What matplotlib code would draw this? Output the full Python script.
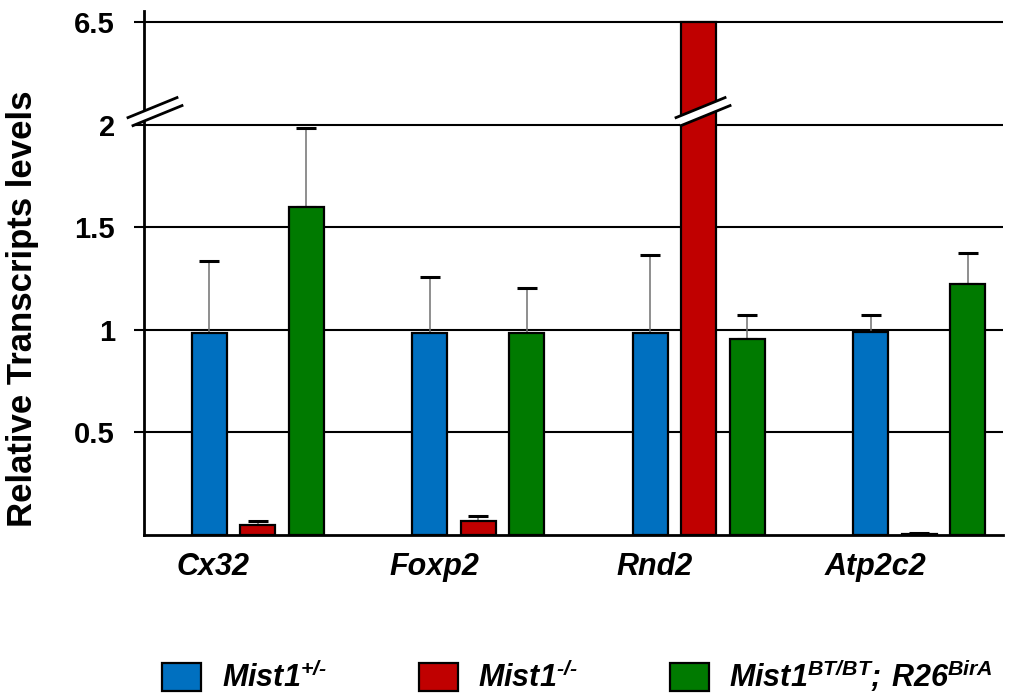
import numpy as np
import matplotlib
matplotlib.use('Agg')
import matplotlib.pyplot as plt
from matplotlib.patches import Patch, Polygon
from matplotlib.lines import Line2D
from matplotlib.transforms import IdentityTransform

# ---------------- data ----------------
genes = ['Cx32', 'Foxp2', 'Rnd2', 'Atp2c2']
series_labels = ['$Mist1^{+/\u2010}$', '$Mist1^{\u2010/\u2010}$', r'$Mist1^{BT/BT};\,R26^{BirA}$']
het_vals = [0.985, 0.985, 0.985, 0.99]
het_err = [0.35, 0.272, 0.379, 0.083]
ko_vals = [0.049, 0.069, 6.5, 0.005]
ko_err = [0.02, 0.023, 0.0, 0.007]
bt_vals = [1.597, 0.982, 0.957, 1.223]
bt_err = [0.384, 0.22, 0.116, 0.151]
ytick_vals = [0.5, 1, 1.5, 2, 6.5]
ytick_labels = ['0.5', '1', '1.5', '2', '6.5']
colors = ['#0070C0', '#C00000', '#007A00']

# ---------------- style ----------------
plt.rcParams['font.family'] = ['Liberation Sans', 'DejaVu Sans']
plt.rcParams['mathtext.fontset'] = 'custom'
for k in ['rm', 'it', 'bf', 'sf']:
    plt.rcParams['mathtext.' + k] = 'Liberation Sans:italic:bold'

DPI = 100
fig = plt.figure(figsize=(10.19, 6.94), dpi=DPI)
ax = fig.add_axes([144 / 1019, 1 - 535 / 694, (1003 - 144) / 1019, (535 - 10.6) / 694])

# broken axis: values above 2 compressed by factor 9
def fwd(v):
    v = np.asarray(v, dtype=float)
    return np.where(v <= 2, v, 2 + (v - 2) / 9.0)

def inv(t):
    t = np.asarray(t, dtype=float)
    return np.where(t <= 2, t, 2 + (t - 2) * 9.0)

ax.set_yscale('function', functions=(fwd, inv))
ax.set_ylim(0, 7.0)
ax.set_xlim(-0.515, 3.38)

x = np.arange(len(genes))
offset = 0.22
width = 0.159
series = [(het_vals, het_err), (ko_vals, ko_err), (bt_vals, bt_err)]
for i, ((vals, errs), c) in enumerate(zip(series, colors)):
    xs = x + (i - 1) * offset
    ax.bar(xs, vals, width, color=c, edgecolor='black', linewidth=1.6, zorder=3)
    vals_a = np.array(vals)
    errs_a = np.array(errs)
    m = errs_a > 0
    eb = ax.errorbar(xs[m], vals_a[m], yerr=[np.zeros(m.sum()), errs_a[m]], fmt='none',
                     ecolor='#707070', elinewidth=1.1, capsize=7, capthick=2.2, zorder=2.5)
    for cap in eb[1]:
        cap.set_color('black')
        cap.set_markeredgecolor('black')

# axes styling
for s in ['top', 'right']:
    ax.spines[s].set_visible(False)
ax.spines['left'].set_linewidth(2)
ax.spines['bottom'].set_linewidth(2)
ax.set_axisbelow(True)
ax.set_yticks(ytick_vals)
ax.set_yticklabels(ytick_labels, fontsize=21, fontweight='bold')
ax.yaxis.grid(True, color='black', linewidth=1.5)
ax.tick_params(axis='y', direction='out', length=7, width=1.5, pad=14)
ax.set_xticks(x - 0.2)
ax.set_xticklabels(genes, fontsize=22, fontweight='bold', fontstyle='italic')
ax.tick_params(axis='x', length=0, pad=12)
ax.set_ylabel('Relative Transcripts levels', fontsize=25, fontweight='bold')
ax.yaxis.set_label_coords(-0.122, 0.432)

# break marks
def break_mark(anchor):
    ax0, ay0 = anchor
    up = [(-16, 7), (33, 27)]
    lo = [(-11, -1), (38, 19)]
    poly = [(ax0 + a, ay0 + b) for a, b in (up[0], up[1], lo[1], lo[0])]
    fig.add_artist(Polygon(poly, closed=True, facecolor='white', edgecolor='none',
                           transform=IdentityTransform(), zorder=10))
    for seg in (up, lo):
        fig.add_artist(Line2D([ax0 + p[0] for p in seg], [ay0 + p[1] for p in seg],
                              color='black', linewidth=2, transform=IdentityTransform(),
                              zorder=11))

xl = ax.get_xlim()[0]
break_mark(ax.transData.transform((xl, 2)))
break_mark(ax.transData.transform((x[2] - 0.03, 2)))

# legend
handles = [Patch(facecolor=c, edgecolor='black', linewidth=1.6, label=l)
           for c, l in zip(colors, series_labels)]
fig.legend(handles=handles, loc='center', bbox_to_anchor=(0.567, 0.026), ncol=3,
           frameon=False, prop={'size': 22, 'weight': 'bold', 'style': 'italic'},
           handlelength=1.27, handleheight=1.06, handletextpad=0.68, columnspacing=3.0)

fig.savefig('out.png', dpi=DPI)
